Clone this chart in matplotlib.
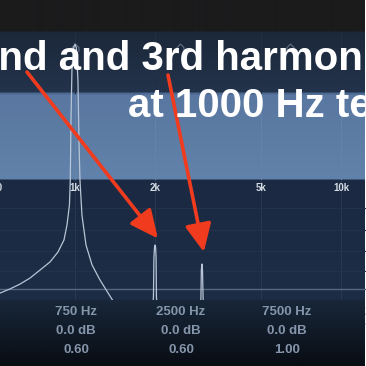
import numpy as np
import matplotlib
matplotlib.use("Agg")
import matplotlib.pyplot as plt
from matplotlib.path import Path
import matplotlib.colors as mcolors

# ---------------- data ----------------
spec_freq = [522, 570, 621, 677, 739, 806, 863, 909, 933, 953, 960, 966, 974, 988,
             1000, 1012, 1026, 1035, 1044, 1062, 1100, 1159, 1241, 1354, 1477,
             1800, 1950, 1972, 1980, 1990, 2000, 2010, 2018, 2024, 2045, 2500,
             2960, 2975, 2985, 3000, 3015, 3030, 3050, 4000, 12500]
spec_db = [-97.7, -96.3, -94.7, -92.7, -90.0, -87.3, -84.0, -80.0, -75.0, -68.3,
           -60.0, -40.0, -23.0, -16.0, -14.7, -16.0, -27.0, -47.0, -60.0, -71.7,
           -81.7, -88.3, -93.3, -98.7, -104.0, -106.0, -104.0, -99.0, -86.0,
           -82.5, -81.7, -82.5, -86.0, -99.0, -104.0, -106.0, -104.0, -99.0,
           -90.0, -88.0, -90.0, -99.0, -104.0, -106.0, -108.0]

freq_ticks = [500, 1000, 2000, 5000, 10000]
freq_tick_labels = ["500", "1k", "2k", "5k", "10k"]

node_freqs = [1000, 2480, 6430]

band_freq_labels = ["750 Hz", "2500 Hz", "7500 Hz", "20000 Hz"]
band_gain_labels = ["0.0 dB", "0.0 dB", "0.0 dB", "0.0 dB"]
band_q_labels = ["0.60", "0.60", "1.00", "0.71"]

title_lines = ["2nd and 3rd harmonics", "at 1000 Hz test tone"]
arrow_targets_freq = [2050, 3050]
arrow_targets_db = [-79.5, -84.0]

# ---------------- layout helpers ----------------
W = H = 366
PX_PER_DEC = 266.0
X1K = 75.0

def px2f(x):
    return 1000.0 * 10 ** ((x - X1K) / PX_PER_DEC)

def py2db(y):
    return -y / 3.0

fig = plt.figure(figsize=(3.66, 3.66), dpi=100)
ax = fig.add_axes([0, 0, 1, 1])
ax.set_xscale("log")
xmin, xmax = px2f(0), px2f(W)
ax.set_xlim(xmin, xmax)
ax.set_ylim(py2db(H), 0)
ax.axis("off")

# ---------------- background gradient ----------------
def hx(c):
    return np.array(mcolors.to_rgb(c))

rows = np.zeros((H, 1, 3))
for y in range(H):
    if y < 32:
        c = hx("#1b1b1c")
    elif y < 93:
        t = (y - 32) / 60
        c = hx("#1c283a") * (1 - t) + hx("#23334b") * t
    elif y < 180:
        t = (y - 93) / 86
        c = hx("#5977a0") * (1 - t) + hx("#6182aa") * t
        if y < 95:
            c = hx("#4a6890")
    elif y < 300:
        t = (y - 180) / 119
        c = hx("#1b2a42") * (1 - t) + hx("#1d2d46") * t
    else:
        t = (y - 300) / 65
        c = hx("#182739") * (1 - t) + hx("#090d14") * t
    rows[y, 0] = c
ax.imshow(rows, extent=(xmin, xmax, py2db(H), 0), aspect="auto",
          interpolation="bilinear", zorder=0)

# ---------------- grid ----------------
for f in [1000, 2000, 5000, 10000]:
    ax.plot([f, f], [py2db(32), py2db(93)], color="#222f44", lw=0.8, zorder=1)
    ax.plot([f, f], [py2db(95), py2db(180)], color="#6483aa", lw=0.8, zorder=1)
    ax.plot([f, f], [py2db(180), py2db(300)], color="#283851", lw=0.8, zorder=1)
for y in [208, 230, 251, 271]:
    ax.axhline(py2db(y), color="#22324a", lw=0.8, zorder=1)
ax.axhline(py2db(289), color="#56677f", lw=1.0, zorder=1)

# frequency labels
for f, lab in zip(freq_ticks, freq_tick_labels):
    ax.text(f, py2db(188), lab, color="#d3dae4", fontsize=7, fontweight="bold",
            family="Liberation Sans", ha="center", va="center", zorder=3)

# ---------------- spectrum ----------------
ax.plot(spec_freq, spec_db, color="#b9c5d6", lw=0.9, zorder=2)

# EQ node markers
node_marker = Path([(-1, -1.6), (-1, -0.3), (0, 0.7), (1, -0.3), (1, -1.6)],
                   [Path.MOVETO, Path.LINETO, Path.LINETO, Path.LINETO, Path.LINETO])
ax.plot(node_freqs, [py2db(46)] * len(node_freqs), linestyle="none",
        marker=node_marker, markersize=8, markerfacecolor="none",
        markeredgecolor="#9fb0c6", markeredgewidth=0.7, alpha=0.6, zorder=2)

# bottom panel overlay (spectrum hidden under the controls)
bot = rows[300:]
ax.imshow(bot, extent=(xmin, xmax, py2db(H), py2db(300)), aspect="auto",
          interpolation="bilinear", zorder=2.5)
ax.set_ylim(py2db(H), 0)

# band labels
col_x = [76, 181, 287, 393]
for x, a, b, c in zip(col_x, band_freq_labels, band_gain_labels, band_q_labels):
    for txt, yy in [(a, 312), (b, 331), (c, 350)]:
        fig.text(x / W, 1 - yy / H, txt, color="#8595ab", fontsize=9.5,
                 fontweight="bold", family="Liberation Sans",
                 ha="center", va="center")

# ---------------- title ----------------
fig.text(-24 / W, 1 - 70 / H, title_lines[0], color="white", fontsize=29,
         fontweight="bold", family="Liberation Sans", ha="left", va="baseline",
         zorder=5)
fig.text(128 / W, 1 - 117 / H, title_lines[1], color="white", fontsize=29,
         fontweight="bold", family="Liberation Sans", ha="left", va="baseline",
         zorder=5)

# ---------------- arrows ----------------
tails = [(27, H - 72), (168, H - 75)]
for (tx, ty), f, d in zip(tails, arrow_targets_freq, arrow_targets_db):
    ax.annotate("", xy=(f, d), xycoords="data", xytext=(tx, ty),
                textcoords="figure pixels",
                arrowprops=dict(arrowstyle="-|>,head_length=1.7,head_width=0.8",
                                lw=2.6, color="#f03b1f", shrinkA=0, shrinkB=0),
                zorder=6)

fig.savefig("out.png", dpi=100)
